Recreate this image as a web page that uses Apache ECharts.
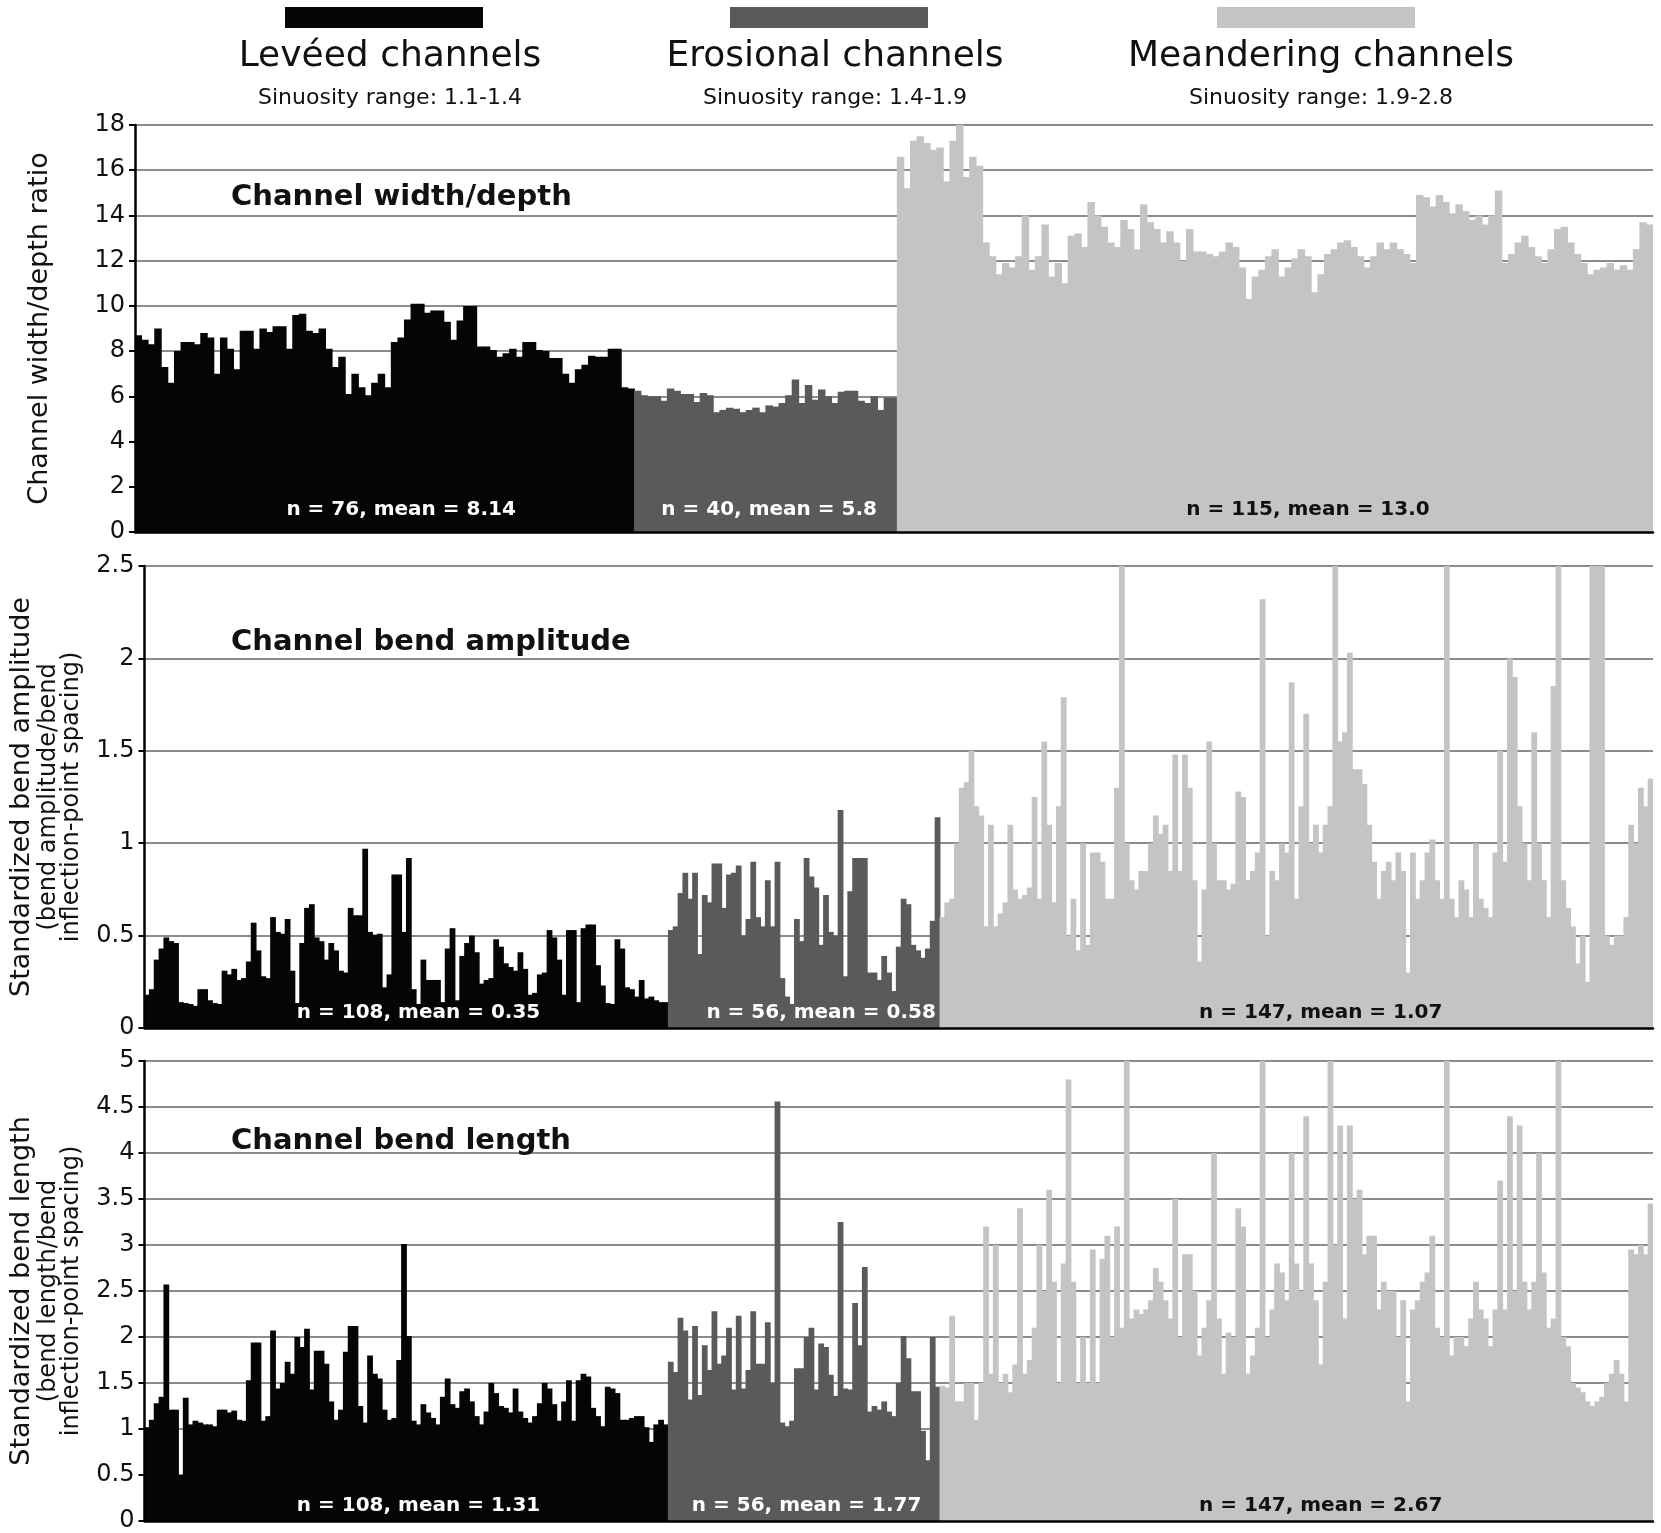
<!DOCTYPE html>
<html lang="en">
  <head>
    <meta charset="UTF-8" />
    <title>channel sinuosity bars</title>
    <style>
      html,
      body {
        margin: 0;
        padding: 0;
        background: #fff;
      }
      #chart {
        width: 1661px;
        height: 1533px;
      }
    </style>
  </head>
  <body>
    <div id="chart"></div>
    <script src="https://cdn.jsdelivr.net/npm/echarts@6/dist/echarts.min.js"></script>
    <script>
      // group names / legend text
      const groupNames = ["Levéed channels", "Erosional channels", "Meandering channels"];
      const sinuosity = ["Sinuosity range: 1.1-1.4", "Sinuosity range: 1.4-1.9", "Sinuosity range: 1.9-2.8"];
      const groupColors = ["#050505", "#5a5a5a", "#c4c4c4"];

      // channel width/depth ratio
      const widthDepthLeveed = [
        8.7, 8.5, 8.3, 9.0, 7.3, 6.6, 8.0, 8.4, 8.4, 8.3, 8.8, 8.6, 7.0, 8.6, 8.1, 7.2, 8.9, 8.9, 8.1, 9.0,
        8.85, 9.1, 9.1, 8.1, 9.6, 9.65, 8.9, 8.8, 9.0, 8.1, 7.3, 7.75, 6.1, 7.0, 6.4, 6.05, 6.6, 7.0, 6.4, 8.4,
        8.6, 9.4, 10.1, 10.1, 9.7, 9.8, 9.8, 9.3, 8.5, 9.35, 10.0, 10.0, 8.2, 8.2, 8.05, 7.75, 7.9, 8.1, 7.75, 8.4,
        8.4, 8.05, 8.0, 7.7, 7.7, 7.0, 6.6, 7.2, 7.4, 7.8, 7.75, 7.75, 8.1, 8.1, 6.4, 6.35,
      ];
      const widthDepthErosional = [
        6.25, 6.05, 6.0, 6.0, 5.8, 6.35, 6.25, 6.1, 6.1, 5.75, 6.15, 6.05, 5.3, 5.4, 5.5, 5.45, 5.3, 5.4, 5.5, 5.3,
        5.6, 5.55, 5.7, 6.05, 6.75, 5.7, 6.5, 5.85, 6.3, 6.0, 5.7, 6.2, 6.25, 6.25, 5.8, 5.7, 6.0, 5.4, 5.95, 5.95,
      ];
      const widthDepthMeandering = [
        16.6, 15.2, 17.3, 17.5, 17.2, 16.9, 17.0, 15.5, 17.3, 18.0, 15.7, 16.6, 16.2, 12.8, 12.2, 11.4, 11.9, 11.7, 12.2, 14.0,
        11.6, 12.2, 13.6, 11.3, 11.9, 11.0, 13.1, 13.2, 12.6, 14.6, 14.0, 13.5, 12.8, 12.6, 13.8, 13.4, 12.5, 14.5, 13.7, 13.4,
        12.8, 13.3, 12.8, 12.0, 13.4, 12.4, 12.4, 12.3, 12.2, 12.4, 12.8, 12.6, 11.7, 10.3, 11.3, 11.6, 12.2, 12.5, 11.3, 11.7,
        12.1, 12.5, 12.2, 10.6, 11.4, 12.3, 12.5, 12.8, 12.9, 12.6, 12.2, 11.7, 12.2, 12.8, 12.5, 12.8, 12.5, 12.3, 11.9, 14.9,
        14.8, 14.4, 14.9, 14.6, 14.1, 14.5, 14.2, 13.8, 14.0, 13.6, 14.0, 15.1, 11.9, 12.3, 12.8, 13.1, 12.6, 12.2, 11.9, 12.5,
        13.4, 13.5, 12.8, 12.3, 11.9, 11.4, 11.6, 11.7, 11.9, 11.6, 11.8, 11.6, 12.5, 13.7, 13.6,
      ];
      const widthDepthNotes = ["n = 76, mean = 8.14", "n = 40, mean = 5.8", "n = 115, mean = 13.0"];

      // standardized bend amplitude
      const amplitudeLeveed = [
        0.18, 0.21, 0.37, 0.43, 0.49, 0.47, 0.46, 0.14, 0.135, 0.13, 0.12, 0.21, 0.21, 0.15, 0.135, 0.13, 0.31, 0.29, 0.32, 0.26,
        0.27, 0.36, 0.57, 0.42, 0.28, 0.27, 0.6, 0.52, 0.51, 0.59, 0.31, 0.135, 0.46, 0.65, 0.67, 0.49, 0.47, 0.37, 0.46, 0.42,
        0.31, 0.3, 0.65, 0.61, 0.61, 0.97, 0.52, 0.505, 0.51, 0.22, 0.29, 0.83, 0.83, 0.52, 0.92, 0.21, 0.13, 0.37, 0.26, 0.26,
        0.26, 0.14, 0.43, 0.54, 0.15, 0.39, 0.46, 0.5, 0.41, 0.24, 0.26, 0.27, 0.48, 0.44, 0.35, 0.33, 0.31, 0.41, 0.32, 0.18,
        0.19, 0.29, 0.3, 0.53, 0.49, 0.37, 0.18, 0.53, 0.53, 0.14, 0.54, 0.56, 0.56, 0.34, 0.23, 0.135, 0.13, 0.48, 0.43, 0.22,
        0.21, 0.17, 0.26, 0.16, 0.17, 0.15, 0.14, 0.14,
      ];
      const amplitudeErosional = [
        0.53, 0.55, 0.73, 0.84, 0.7, 0.84, 0.4, 0.72, 0.68, 0.89, 0.89, 0.65, 0.83, 0.84, 0.88, 0.5, 0.59, 0.9, 0.6, 0.55,
        0.8, 0.55, 0.9, 0.27, 0.17, 0.13, 0.59, 0.47, 0.92, 0.82, 0.76, 0.45, 0.72, 0.52, 0.5, 1.18, 0.28, 0.74, 0.92, 0.92,
        0.92, 0.3, 0.3, 0.26, 0.39, 0.3, 0.2, 0.44, 0.7, 0.67, 0.45, 0.42, 0.38, 0.43, 0.58, 1.14,
      ];
      const amplitudeMeandering = [
        0.6, 0.68, 0.7, 1.0, 1.3, 1.33, 1.5, 1.2, 1.15, 0.55, 1.1, 0.55, 0.62, 0.68, 1.1, 0.75, 0.7, 0.72, 0.76, 1.25,
        0.7, 1.55, 1.1, 0.68, 1.2, 1.79, 0.5, 0.7, 0.42, 1.0, 0.45, 0.95, 0.95, 0.9, 0.7, 0.7, 1.3, 2.5, 1.0, 0.8,
        0.75, 0.85, 0.85, 1.0, 1.15, 1.05, 1.1, 0.85, 1.48, 0.85, 1.48, 1.3, 0.8, 0.36, 0.75, 1.55, 1.0, 0.8, 0.8, 0.75,
        0.78, 1.28, 1.25, 0.8, 0.85, 0.95, 2.32, 0.5, 0.85, 0.8, 1.0, 0.95, 1.87, 0.7, 1.2, 1.7, 1.0, 1.1, 0.95, 1.1,
        1.2, 2.5, 1.55, 1.6, 2.03, 1.4, 1.4, 1.32, 1.1, 0.9, 0.7, 0.85, 0.9, 0.8, 0.95, 0.85, 0.3, 0.95, 0.7, 0.8,
        0.95, 1.02, 0.8, 0.7, 2.5, 0.7, 0.6, 0.8, 0.75, 0.6, 1.0, 0.7, 0.65, 0.6, 0.95, 1.5, 0.9, 2.0, 1.9, 1.2,
        1.0, 0.8, 1.6, 1.0, 0.8, 0.6, 1.85, 2.5, 0.8, 0.65, 0.55, 0.35, 0.5, 0.25, 2.5, 2.5, 2.5, 0.5, 0.45, 0.5,
        0.5, 0.6, 1.1, 1.0, 1.3, 1.2, 1.35,
      ];
      const amplitudeNotes = ["n = 108, mean = 0.35", "n = 56, mean = 0.58", "n = 147, mean = 1.07"];

      // standardized bend length
      const lengthLeveed = [
        1.02, 1.1, 1.28, 1.35, 2.57, 1.21, 1.21, 0.5, 1.34, 1.05, 1.09, 1.07, 1.05, 1.05, 1.03, 1.21, 1.21, 1.18, 1.2, 1.1,
        1.09, 1.53, 1.94, 1.94, 1.09, 1.14, 2.07, 1.44, 1.5, 1.73, 1.6, 2.0, 1.89, 2.09, 1.43, 1.85, 1.85, 1.71, 1.3, 1.1,
        1.21, 1.84, 2.12, 2.12, 1.25, 1.07, 1.8, 1.6, 1.55, 1.21, 1.1, 1.12, 1.75, 3.01, 2.01, 1.09, 1.05, 1.27, 1.18, 1.12,
        1.05, 1.35, 1.55, 1.27, 1.23, 1.41, 1.44, 1.3, 1.14, 1.05, 1.19, 1.5, 1.39, 1.25, 1.23, 1.18, 1.44, 1.19, 1.12, 1.07,
        1.14, 1.28, 1.5, 1.44, 1.27, 1.09, 1.3, 1.53, 1.09, 1.53, 1.6, 1.57, 1.23, 1.14, 1.03, 1.46, 1.44, 1.39, 1.1, 1.1,
        1.12, 1.14, 1.14, 1.02, 0.86, 1.05, 1.1, 1.05,
      ];
      const lengthErosional = [
        1.73, 1.62, 2.21, 2.07, 1.32, 2.12, 1.37, 1.91, 1.64, 2.28, 1.71, 1.8, 2.1, 1.43, 2.23, 1.44, 1.64, 2.28, 1.71, 1.71,
        2.16, 1.5, 4.56, 1.07, 1.03, 1.09, 1.66, 1.66, 2.0, 2.1, 1.43, 1.93, 1.89, 1.59, 1.36, 3.25, 1.44, 1.43, 2.37, 1.91,
        2.76, 1.19, 1.25, 1.21, 1.3, 1.19, 1.14, 1.5, 2.01, 1.77, 1.41, 1.41, 0.98, 0.66, 2.0, 1.46,
      ];
      const lengthMeandering = [
        1.47, 1.45, 2.23, 1.3, 1.3, 1.5, 1.5, 1.1, 1.5, 3.2, 1.6, 3.0, 1.5, 1.6, 1.4, 1.7, 3.4, 1.6, 1.75, 2.1,
        3.0, 2.5, 3.6, 2.6, 1.5, 2.8, 4.8, 2.6, 1.5, 2.0, 1.5, 2.95, 1.5, 2.85, 3.1, 2.0, 3.2, 2.1, 5.0, 2.2,
        2.3, 2.25, 2.3, 2.4, 2.75, 2.6, 2.4, 2.2, 3.5, 2.0, 2.9, 2.9, 2.5, 1.8, 2.1, 2.4, 4.0, 2.2, 1.6, 2.05,
        2.0, 3.4, 3.2, 1.6, 1.8, 2.1, 5.0, 2.0, 2.3, 2.8, 2.7, 2.4, 4.0, 2.8, 2.5, 4.4, 2.8, 2.4, 1.7, 2.6,
        5.0, 3.0, 4.3, 2.2, 4.3, 3.5, 3.6, 2.9, 3.1, 3.1, 2.3, 2.6, 2.5, 2.5, 2.0, 2.4, 1.3, 2.3, 2.4, 2.6,
        2.7, 3.1, 2.1, 2.0, 5.0, 1.8, 2.0, 2.0, 1.9, 2.2, 2.6, 2.3, 2.2, 1.9, 2.3, 3.7, 2.3, 4.4, 2.5, 4.3,
        2.6, 2.3, 2.6, 4.0, 2.7, 2.1, 2.2, 5.0, 2.0, 1.9, 1.5, 1.45, 1.4, 1.3, 1.25, 1.3, 1.35, 1.5, 1.6, 1.75,
        1.6, 1.3, 2.95, 2.9, 3.0, 2.9, 3.45,
      ];
      const lengthNotes = ["n = 108, mean = 1.31", "n = 56, mean = 1.77", "n = 147, mean = 2.67"];

      const font = "DejaVu Sans";
      const W = 1661;
      const gridLeft = 135;
      const gridRight = 8;

      const panels = [
        {
          title: "Channel width/depth",
          axisName: "Channel width/depth ratio",
          groups: [widthDepthLeveed, widthDepthErosional, widthDepthMeandering],
          notes: widthDepthNotes,
          max: 18,
          interval: 2,
          top: 125,
          height: 407,
          titleTop: 183,
          noteAt: [40, 96, 178],
          noteY: 0.97,
        },
        {
          title: "Channel bend amplitude",
          axisName: "{a|Standardized bend amplitude}\n{b|(bend amplitude/bend}\n{b|inflection-point spacing)}",
          groups: [amplitudeLeveed, amplitudeErosional, amplitudeMeandering],
          notes: amplitudeNotes,
          max: 2.5,
          interval: 0.5,
          top: 566,
          height: 462,
          titleTop: 628,
          noteAt: [56, 139, 242],
          noteY: 0.081,
        },
        {
          title: "Channel bend length",
          axisName: "{a|Standardized bend length}\n{b|(bend length/bend}\n{b|inflection-point spacing)}",
          groups: [lengthLeveed, lengthErosional, lengthMeandering],
          notes: lengthNotes,
          max: 5,
          interval: 0.5,
          top: 1061,
          height: 467,
          titleTop: 1127,
          noteAt: [56, 136, 242],
          noteY: 0.16,
        },
      ];

      const totalOf = (p) => p.groups.reduce((s, g) => s + g.length, 0);

      // spread each group over its own stretch of one shared category axis
      function spread(groups) {
        const total = groups.reduce((s, g) => s + g.length, 0);
        let start = 0;
        return groups.map((g) => {
          const row = new Array(total).fill("-");
          g.forEach((v, k) => (row[start + k] = v));
          start += g.length;
          return row;
        });
      }

      const chart = echarts.init(document.getElementById("chart"));

      const grid = panels.map((p) => ({ left: gridLeft, right: gridRight, top: p.top, height: p.height }));

      const xAxis = panels.map((p, i) => ({
        type: "category",
        gridIndex: i,
        data: Array.from({ length: totalOf(p) }, (_, k) => String(k)),
        axisLine: { lineStyle: { color: "#000", width: 2.5 } },
        axisTick: { show: false },
        axisLabel: { show: false },
        splitLine: { show: false },
        z: 5,
      }));

      // lower axes carry the grid lines (behind the bars) ...
      const gridAxes = panels.map((p, i) => ({
        type: "value",
        gridIndex: i,
        position: "left",
        min: 0,
        max: p.max,
        interval: p.interval,
        axisLine: { show: false },
        axisTick: { show: false },
        axisLabel: { show: false },
        splitLine: { lineStyle: { color: "#8c8c8c", width: 2 } },
      }));

      // ... upper axes carry the line, ticks, labels and name (above the bars)
      const labelAxes = panels.map((p, i) => ({
        type: "value",
        gridIndex: i,
        position: "left",
        offset: 0,
        min: 0,
        max: p.max,
        interval: p.interval,
        name: p.axisName,
        nameLocation: "middle",
        nameRotate: 90,
        nameGap: i === 0 ? 82 : 61,
        nameTextStyle: {
          fontFamily: font,
          fontSize: 27,
          color: "#111",
          rich: {
            a: { fontFamily: font, fontSize: 27, lineHeight: 32, color: "#111" },
            b: { fontFamily: font, fontSize: 24, lineHeight: 23, color: "#111" },
          },
        },
        axisLine: { show: true, lineStyle: { color: "#000", width: 2.5 } },
        axisTick: { show: true, inside: false, length: 6, lineStyle: { color: "#000", width: 2 } },
        axisLabel: { fontFamily: font, fontSize: 24, color: "#111", margin: 10 },
        splitLine: { show: false },
        z: 5,
      }));

      const series = [];
      panels.forEach((p, i) => {
        // a hair wider than the band so neighbouring bars leave no seams
        const band = (W - gridLeft - gridRight) / totalOf(p);
        spread(p.groups).forEach((row, g) => {
          series.push({
            type: "bar",
            name: groupNames[g],
            xAxisIndex: i,
            yAxisIndex: i,
            data: row,
            barWidth: band + 0.9,
            barGap: "-100%",
            silent: true,
            itemStyle: { color: groupColors[g] },
            markPoint: {
              symbol: "rect",
              symbolSize: 1,
              silent: true,
              itemStyle: { color: "rgba(0,0,0,0)" },
              label: {
                show: true,
                position: "inside",
                formatter: p.notes[g],
                fontFamily: font,
                fontWeight: "bold",
                fontSize: 20,
                color: g === 2 ? "#111" : "#fff",
              },
              data: [{ coord: [String(p.noteAt[g]), p.noteY] }],
            },
          });
        });
      });

      const legendLeft = [285, 730, 1217];
      const legend = groupNames.map((n, i) => ({
        data: [n],
        left: legendLeft[i],
        top: 7,
        padding: 0,
        icon: "rect",
        itemWidth: 198,
        itemHeight: 21,
        selectedMode: false,
        formatter: () => "",
        itemStyle: { color: groupColors[i] },
      }));

      const titleCenters = [385, 830, 1316];
      const title = groupNames
        .map((n, i) => ({
          text: n,
          subtext: sinuosity[i],
          left: titleCenters[i],
          top: 34,
          textAlign: "center",
          itemGap: 12,
          textStyle: { fontFamily: font, fontSize: 36, fontWeight: "normal", color: "#111" },
          subtextStyle: { fontFamily: font, fontSize: 22, color: "#111" },
        }))
        .concat(
          panels.map((p) => ({
            text: p.title,
            left: 231,
            top: p.titleTop,
            padding: 0,
            textStyle: { fontFamily: font, fontSize: 29, fontWeight: "bold", color: "#111" },
          }))
        );

      chart.setOption({
        animation: false,
        backgroundColor: "#fff",
        title: title,
        legend: legend,
        grid: grid,
        xAxis: xAxis,
        yAxis: gridAxes.concat(labelAxes),
        series: series,
      });
    </script>
  </body>
</html>
